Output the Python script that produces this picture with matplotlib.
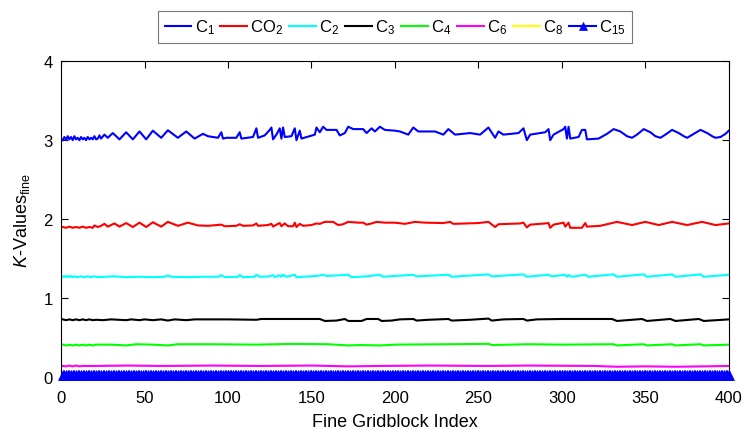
import matplotlib
matplotlib.use("Agg")
import matplotlib.pyplot as plt
import numpy as np

plt.rcParams['font.family'] = ['Liberation Sans', 'DejaVu Sans']
plt.rcParams['mathtext.fontset'] = 'custom'
plt.rcParams['mathtext.rm'] = 'Liberation Sans'
plt.rcParams['mathtext.it'] = 'Liberation Sans:italic'

# ---- data ----
c1_x = [1,2,3,4,5,6,7,8,9,10,11,12,13,14,15,16,17,18,19,20,21,22,23,24,26,28,31,35,39,43,47,51,55,60,64,70,75,80,85,88,94,96,97,99,105,107,108,115,117,118,122,125,126,127,129,131,132,133,134,138,140,141,143,144,152,153,155,157,159,165,167,170,172,175,181,183,186,188,191,194,200,203,208,211,214,224,229,232,236,245,251,256,260,262,265,274,277,279,281,290,292,293,295,301,302,303,304,305,310,312,314,315,322,327,331,335,339,342,345,349,353,356,359,362,366,370,373,375,379,383,387,390,392,395,398,400]
c1_y = [3.0,3.04,3.0,3.05,3.01,3.04,3.0,3.05,3.01,3.03,3.0,3.04,3.01,3.03,3.0,3.04,3.01,3.03,3.01,3.05,3.01,3.02,3.06,3.02,3.07,3.03,3.09,3.01,3.10,3.01,3.11,3.01,3.12,3.03,3.125,3.03,3.11,3.02,3.08,3.05,3.03,3.10,3.02,3.03,3.03,3.10,3.02,3.04,3.15,3.03,3.06,3.13,3.16,3.01,3.07,3.15,3.02,3.16,3.04,3.05,3.15,3.0,3.12,3.02,3.07,3.16,3.10,3.17,3.13,3.13,3.06,3.09,3.17,3.14,3.14,3.09,3.15,3.11,3.17,3.13,3.12,3.11,3.07,3.16,3.11,3.11,3.07,3.14,3.07,3.09,3.07,3.16,3.03,3.11,3.07,3.09,3.15,3.0,3.07,3.10,3.14,3.0,3.07,3.14,3.17,3.02,3.17,3.02,3.04,3.13,3.13,3.01,3.02,3.08,3.14,3.11,3.05,3.03,3.07,3.14,3.10,3.05,3.03,3.07,3.13,3.09,3.05,3.03,3.08,3.13,3.09,3.05,3.03,3.04,3.08,3.12]

co2_x = [1,3,5,7,9,11,13,15,17,19,20,22,24,26,28,32,35,39,43,47,51,55,60,64,70,76,82,88,96,98,105,107,109,115,117,118,124,126,127,129,131,132,134,136,139,140,141,143,145,150,153,155,158,163,166,169,172,178,181,183,186,189,194,200,206,212,218,229,233,235,250,256,260,262,275,277,279,281,290,292,293,295,301,302,304,305,312,314,315,323,333,342,350,358,366,375,384,392,400]
co2_y = [1.90,1.89,1.905,1.89,1.90,1.89,1.905,1.89,1.90,1.89,1.92,1.90,1.915,1.94,1.905,1.945,1.905,1.95,1.90,1.955,1.90,1.96,1.905,1.965,1.915,1.955,1.92,1.915,1.93,1.91,1.915,1.935,1.915,1.92,1.945,1.915,1.925,1.94,1.905,1.93,1.95,1.91,1.945,1.91,1.91,1.955,1.90,1.94,1.915,1.925,1.945,1.94,1.965,1.965,1.925,1.935,1.965,1.955,1.955,1.93,1.945,1.965,1.955,1.955,1.94,1.965,1.955,1.95,1.965,1.94,1.95,1.965,1.90,1.935,1.945,1.955,1.895,1.93,1.945,1.95,1.89,1.93,1.955,1.905,1.955,1.89,1.89,1.95,1.905,1.915,1.965,1.925,1.965,1.925,1.965,1.925,1.965,1.925,1.945]

c2_x = [1,2,3,4,5,6,7,8,10,12,14,16,18,20,22,26,32,39,47,55,62,64,66,75,85,94,96,98,106,107,109,116,117,119,125,127,128,131,132,133,135,140,141,153,157,159,172,174,183,189,191,193,200,211,213,232,234,256,258,277,279,292,294,302,303,304,306,314,316,331,333,349,351,366,368,383,385,400]
c2_y = [1.27,1.28,1.265,1.28,1.265,1.28,1.265,1.275,1.265,1.275,1.265,1.275,1.265,1.275,1.265,1.27,1.275,1.265,1.27,1.265,1.27,1.285,1.27,1.265,1.27,1.27,1.29,1.265,1.27,1.29,1.265,1.27,1.295,1.27,1.275,1.29,1.265,1.29,1.27,1.295,1.27,1.295,1.265,1.28,1.295,1.28,1.295,1.265,1.275,1.29,1.295,1.27,1.28,1.295,1.275,1.295,1.27,1.30,1.275,1.30,1.27,1.295,1.275,1.295,1.27,1.29,1.27,1.295,1.27,1.30,1.27,1.30,1.27,1.30,1.27,1.30,1.27,1.295]

c3_x = [1,3,5,7,9,11,13,15,17,19,21,25,30,39,42,47,50,55,60,64,68,75,80,100,117,120,140,155,158,165,170,172,180,183,190,192,198,203,211,213,220,232,234,245,256,258,265,277,279,285,300,330,333,348,351,365,368,382,385,400]
c3_y = [0.73,0.72,0.73,0.72,0.73,0.72,0.73,0.72,0.73,0.72,0.725,0.72,0.73,0.72,0.73,0.72,0.73,0.72,0.73,0.715,0.73,0.72,0.73,0.73,0.725,0.735,0.735,0.735,0.71,0.715,0.735,0.71,0.71,0.735,0.735,0.71,0.715,0.73,0.735,0.715,0.725,0.735,0.715,0.725,0.74,0.715,0.73,0.735,0.715,0.73,0.735,0.735,0.71,0.735,0.71,0.735,0.71,0.735,0.71,0.73]

c4_x = [1,3,5,7,9,11,13,15,17,19,21,30,39,45,55,64,70,90,117,140,160,172,180,191,200,230,256,258,280,300,331,333,349,351,366,368,383,385,400]
c4_y = [0.41,0.40,0.41,0.40,0.41,0.40,0.41,0.40,0.41,0.40,0.41,0.41,0.40,0.415,0.41,0.40,0.415,0.415,0.41,0.42,0.415,0.40,0.405,0.40,0.41,0.415,0.42,0.405,0.415,0.41,0.415,0.40,0.415,0.40,0.415,0.40,0.415,0.40,0.41]

c6_x = [1,3,5,7,9,11,13,20,40,60,90,120,150,172,190,220,256,280,320,333,350,368,385,400]
c6_y = [0.14,0.135,0.145,0.135,0.145,0.135,0.14,0.14,0.145,0.14,0.145,0.14,0.145,0.135,0.14,0.145,0.14,0.145,0.14,0.13,0.135,0.13,0.135,0.14]

c8_x = [1,100,200,300,400]
c8_y = [0.045,0.045,0.045,0.045,0.045]

c15_x = list(range(1, 401))
c15_y = [0.02] * 400

labels = ['C$_1$', 'CO$_2$', 'C$_2$', 'C$_3$', 'C$_4$', 'C$_6$', 'C$_8$', 'C$_{15}$']
colors = ['#0000ff', '#ff0000', '#00ffff', '#000000', '#00ff00', '#ff00ff', '#ffff00', '#0000ff']

fig = plt.figure(figsize=(7.47, 4.35), dpi=100)
ax = fig.add_axes([0.0817, 0.131, 0.894, 0.726])

series = [(c1_x, c1_y), (co2_x, co2_y), (c2_x, c2_y), (c3_x, c3_y),
          (c4_x, c4_y), (c6_x, c6_y), (c8_x, c8_y)]
handles = []
for (xs, ys), lab, col in zip(series, labels[:7], colors[:7]):
    h, = ax.plot(xs, ys, color=col, lw=1.5, label=lab)
    handles.append(h)
h, = ax.plot(c15_x, c15_y, color=colors[7], lw=1.5, marker='^', markersize=7,
             markeredgewidth=0.5, label=labels[7], clip_on=False, zorder=5)
handles.append(h)

ax.set_xlim(0, 400)
ax.set_ylim(0, 4)
ax.set_xticks(np.arange(0, 401, 50))
ax.set_yticks([0, 1, 2, 3, 4])
ax.tick_params(direction='in', top=True, right=True, labelsize=12, length=5, width=0.8)
ax.tick_params(axis='x', pad=9)
ax.tick_params(axis='y', pad=6)
for s in ax.spines.values():
    s.set_linewidth(0.8)
ax.set_xlabel('Fine Gridblock Index', fontsize=13, labelpad=6)
ax.set_ylabel(r'$\mathit{K}$-Values$_{\mathrm{fine}}$', fontsize=13, labelpad=8)

leg = fig.legend(handles=handles, loc='center', bbox_to_anchor=(0.529, 0.936),
                 ncol=8, fontsize=12, frameon=True, fancybox=False, edgecolor='#555555',
                 handlelength=1.6, handletextpad=0.2, columnspacing=0.35,
                 borderpad=0.4, borderaxespad=0, markerscale=0.8)
leg.get_frame().set_linewidth(0.8)

fig.savefig('out.png', dpi=100)
